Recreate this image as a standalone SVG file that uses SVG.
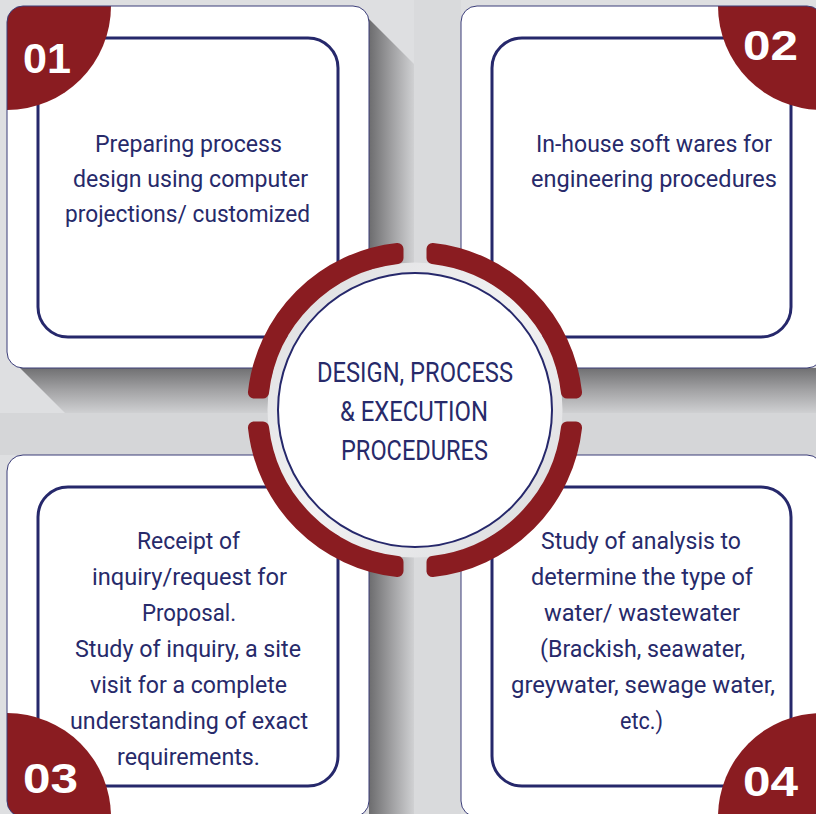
<svg xmlns="http://www.w3.org/2000/svg" width="816" height="814" viewBox="0 0 816 814">
<style>
.card{fill:#ffffff;}
.cardline{fill:none;stroke:#3a3c78;stroke-width:1;}
.inner{fill:none;stroke:#26286b;stroke-width:3;}
.red{fill:#8a1c21;}
.num{font-family:"Liberation Sans",Arial,sans-serif;font-weight:700;font-size:42px;fill:#ffffff;}
.txt{font-family:Roboto,"Liberation Sans",sans-serif;font-size:24px;fill:#272a6a;}
.ctxt{font-family:Roboto,"Liberation Sans",sans-serif;font-size:28px;fill:#272a6a;}
.seg{fill:#8a1c21;stroke:#8a1c21;stroke-width:12;stroke-linejoin:round;}
</style>
<defs>
<linearGradient id="shH" gradientUnits="userSpaceOnUse" x1="369" y1="0" x2="416" y2="0">
<stop offset="0" stop-color="#6c6c6e"/><stop offset="0.45" stop-color="#9c9c9e"/><stop offset="1" stop-color="#d4d5d7"/>
</linearGradient>
<linearGradient id="shV1" gradientUnits="userSpaceOnUse" x1="0" y1="368" x2="0" y2="415">
<stop offset="0" stop-color="#707072"/><stop offset="0.45" stop-color="#a0a0a2"/><stop offset="1" stop-color="#d3d4d6"/>
</linearGradient>
<linearGradient id="ring" x1="0" y1="0" x2="1" y2="1">
<stop offset="0" stop-color="#dcdddf"/><stop offset="0.5" stop-color="#f2f2f3"/><stop offset="1" stop-color="#dadbdd"/>
</linearGradient>
<clipPath id="c1"><rect x="7" y="6" width="362" height="362" rx="16"/></clipPath>
<clipPath id="c2"><rect x="461" y="6" width="362" height="362" rx="16"/></clipPath>
<clipPath id="c3"><rect x="7" y="455" width="362" height="362" rx="16"/></clipPath>
<clipPath id="c4"><rect x="461" y="455" width="362" height="362" rx="16"/></clipPath>
</defs>

<rect x="0" y="0" width="816" height="814" fill="#dedfe1"/>
<rect x="0" y="413" width="816" height="42" fill="#d5d6d8"/>
<rect x="414" y="0" width="47" height="814" fill="#d9dadc"/>

<g id="connectors">
<polygon points="369,19 414,64 414,413 369,368" fill="url(#shH)"/>
<polygon points="20,368 369,368 414,413 65,413" fill="url(#shV1)"/>
<polygon points="474,368 823,368 823,413 519,413" fill="url(#shV1)"/>
<polygon points="369,468 414,513 414,814 369,814" fill="url(#shH)"/>
</g>

<g id="card1">
<rect class="card" x="7" y="6" width="362" height="362" rx="16"/>
<rect class="inner" x="38" y="38" width="300" height="299" rx="30"/>
<path class="red" clip-path="url(#c1)" d="M7,6 L111,6 A104,104 0 0 1 7,110 Z"/>
<rect class="cardline" x="7" y="6" width="362" height="362" rx="16"/>
<text class="num" x="23" y="73" textLength="48" lengthAdjust="spacingAndGlyphs">01</text>
<text class="txt" x="95" y="152" textLength="187" lengthAdjust="spacingAndGlyphs">Preparing process</text>
<text class="txt" x="73" y="187" textLength="235" lengthAdjust="spacingAndGlyphs">design using computer</text>
<text class="txt" x="65" y="222" textLength="245" lengthAdjust="spacingAndGlyphs">projections/ customized</text>
</g>

<g id="card2">
<rect class="card" x="461" y="6" width="362" height="362" rx="16"/>
<rect class="inner" x="492" y="38" width="299" height="299" rx="30"/>
<path class="red" clip-path="url(#c2)" d="M822,6 L718,6 A104,104 0 0 0 822,110 Z"/>
<rect class="cardline" x="461" y="6" width="362" height="362" rx="16"/>
<text class="num" x="743" y="60" textLength="55" lengthAdjust="spacingAndGlyphs">02</text>
<text class="txt" x="536" y="152" textLength="236" lengthAdjust="spacingAndGlyphs">In-house soft wares for</text>
<text class="txt" x="531" y="187" textLength="246" lengthAdjust="spacingAndGlyphs">engineering procedures</text>
</g>

<g id="card3">
<rect class="card" x="7" y="455" width="362" height="362" rx="16"/>
<rect class="inner" x="38" y="487" width="300" height="299" rx="30"/>
<path class="red" clip-path="url(#c3)" d="M7,713 A104,104 0 0 1 111,817 L7,817 Z"/>
<rect class="cardline" x="7" y="455" width="362" height="362" rx="16"/>
<text class="num" x="23" y="793" textLength="55" lengthAdjust="spacingAndGlyphs">03</text>
<text class="txt" x="137" y="549" textLength="103" lengthAdjust="spacingAndGlyphs">Receipt of</text>
<text class="txt" x="92" y="585" textLength="195" lengthAdjust="spacingAndGlyphs">inquiry/request for</text>
<text class="txt" x="142" y="621" textLength="94" lengthAdjust="spacingAndGlyphs">Proposal.</text>
<text class="txt" x="75" y="657" textLength="226" lengthAdjust="spacingAndGlyphs">Study of inquiry, a site</text>
<text class="txt" x="90" y="693" textLength="197" lengthAdjust="spacingAndGlyphs">visit for a complete</text>
<text class="txt" x="70" y="729" textLength="238" lengthAdjust="spacingAndGlyphs">understanding of exact</text>
<text class="txt" x="117" y="765" textLength="143" lengthAdjust="spacingAndGlyphs">requirements.</text>
</g>

<g id="card4">
<rect class="card" x="461" y="455" width="362" height="362" rx="16"/>
<rect class="inner" x="492" y="487" width="299" height="299" rx="30"/>
<path class="red" clip-path="url(#c4)" d="M822,713 A104,104 0 0 0 718,817 L822,817 Z"/>
<rect class="cardline" x="461" y="455" width="362" height="362" rx="16"/>
<text class="num" x="743" y="796" textLength="55" lengthAdjust="spacingAndGlyphs">04</text>
<text class="txt" x="541" y="549" textLength="200" lengthAdjust="spacingAndGlyphs">Study of analysis to</text>
<text class="txt" x="531" y="585" textLength="222" lengthAdjust="spacingAndGlyphs">determine the type of</text>
<text class="txt" x="544" y="621" textLength="196" lengthAdjust="spacingAndGlyphs">water/ wastewater</text>
<text class="txt" x="540" y="657" textLength="205" lengthAdjust="spacingAndGlyphs">(Brackish, seawater,</text>
<text class="txt" x="511" y="693" textLength="264" lengthAdjust="spacingAndGlyphs">greywater, sewage water,</text>
<text class="txt" x="620" y="729" textLength="43" lengthAdjust="spacingAndGlyphs">etc.)</text>
</g>

<g id="center">
<circle cx="415" cy="410" r="142" fill="none" stroke="url(#ring)" stroke-width="11"/>
<circle cx="415" cy="410" r="137" fill="#ffffff" stroke="#26286b" stroke-width="2"/>
<path class="seg" d="M397.5,248.95 A162,162 0 0 0 253.95,392.5 L263,392.5 A153,153 0 0 1 397.5,258 Z"/>
<path class="seg" d="M432.5,248.95 A162,162 0 0 1 576.05,392.5 L567,392.5 A153,153 0 0 0 432.5,258 Z"/>
<path class="seg" d="M576.05,427.5 A162,162 0 0 1 432.5,571.05 L432.5,562 A153,153 0 0 0 567,427.5 Z"/>
<path class="seg" d="M397.5,571.05 A162,162 0 0 1 253.95,427.5 L263,427.5 A153,153 0 0 0 397.5,562 Z"/>
<text class="ctxt" x="317" y="382" textLength="196" lengthAdjust="spacingAndGlyphs">DESIGN, PROCESS</text>
<text class="ctxt" x="340" y="421" textLength="148" lengthAdjust="spacingAndGlyphs">&amp; EXECUTION</text>
<text class="ctxt" x="341" y="460" textLength="147" lengthAdjust="spacingAndGlyphs">PROCEDURES</text>
</g>
</svg>
